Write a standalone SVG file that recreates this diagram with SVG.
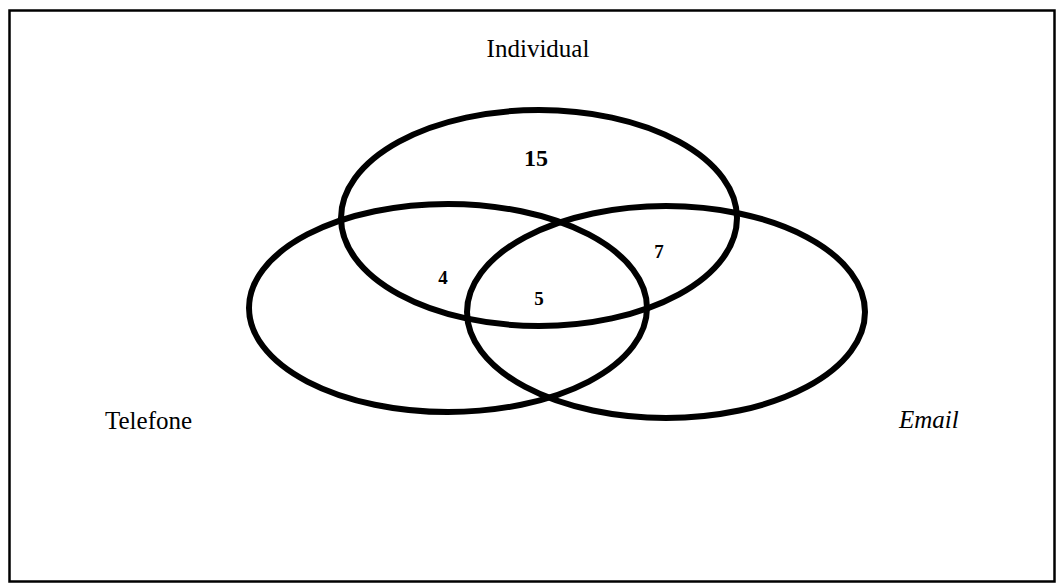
<svg xmlns="http://www.w3.org/2000/svg" width="1056" height="583" viewBox="0 0 1056 583">
<style>
.e{fill:none;stroke:#000;stroke-width:6}
.t{font-family:"Liberation Serif",serif;fill:#000;font-size:25px}
.n{font-family:"Liberation Serif",serif;font-weight:bold;fill:#000;text-anchor:middle;font-size:19px}
</style>
<rect x="0" y="0" width="1056" height="583" fill="#fff"/>
<rect x="9.5" y="10.5" width="1045" height="571" fill="none" stroke="#000" stroke-width="2.5"/>
<g id="individual">
<ellipse class="e" cx="539" cy="218" rx="198" ry="108"/>
<text class="t" x="538" y="57" text-anchor="middle">Individual</text>
<text class="n" x="536" y="166" style="font-size:24px">15</text>
</g>
<g id="telefone">
<ellipse class="e" cx="448" cy="308" rx="199" ry="104"/>
<text class="t" x="105" y="429">Telefone</text>
</g>
<g id="email">
<ellipse class="e" cx="666" cy="312" rx="199" ry="106"/>
<text class="t" x="899" y="428" font-style="italic">Email</text>
</g>
<g id="counts">
<text class="n" x="443" y="284">4</text>
<text class="n" x="539" y="305">5</text>
<text class="n" x="659" y="258">7</text>
</g>
</svg>
